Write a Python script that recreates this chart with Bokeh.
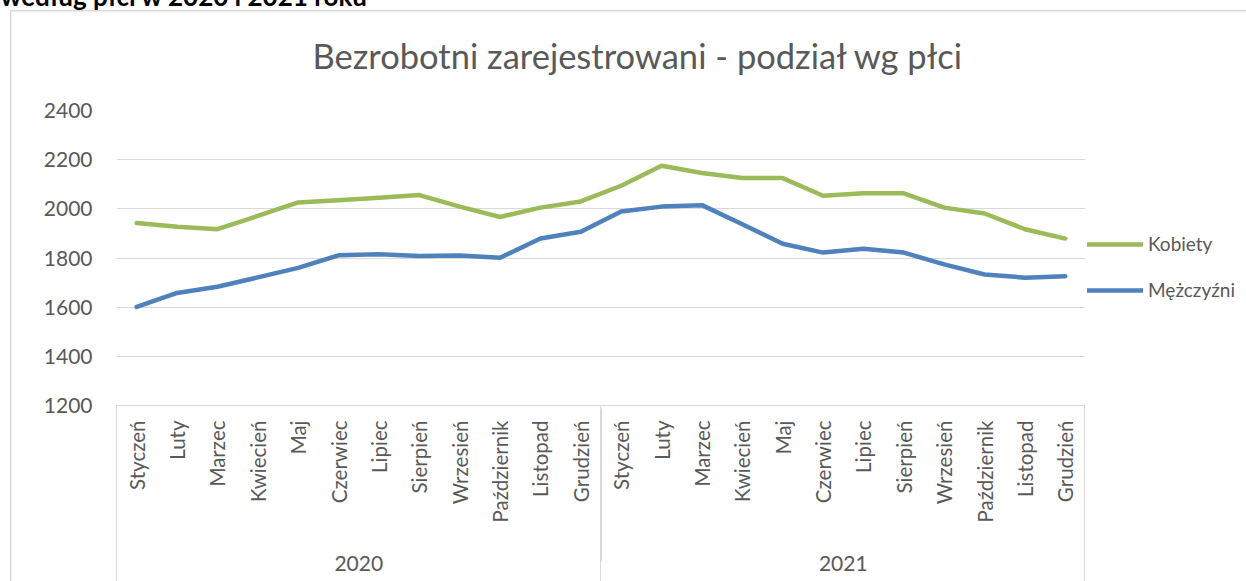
import math
from bokeh.plotting import figure
from bokeh.models import (FactorRange, Range1d, FixedTicker, Legend, LegendItem, Title)
from bokeh.embed import file_html
from bokeh.resources import INLINE

years = ["2020", "2021"]
months = ["Styczeń", "Luty", "Marzec", "Kwiecień", "Maj", "Czerwiec", "Lipiec",
          "Sierpień", "Wrzesień", "Październik", "Listopad", "Grudzień"]
kobiety = [1942, 1927, 1917, 1971, 2026, 2035, 2045, 2056, 2009, 1967, 2005, 2030,
           2094, 2175, 2146, 2125, 2125, 2053, 2063, 2063, 2005, 1981, 1917, 1879]
mezczyzni = [1601, 1658, 1683, 1721, 1760, 1811, 1815, 1808, 1810, 1801, 1879, 1907,
             1989, 2009, 2015, 1937, 1858, 1822, 1838, 1822, 1774, 1733, 1720, 1726]
y_ticks = [1200, 1400, 1600, 1800, 2000, 2200, 2400]
title_text = "Bezrobotni zarejestrowani - podział wg płci"
heading_text = "według płci w 2020 i 2021 roku"

PAD = "\u00a0" * 4  # spacing between month labels and year labels
factors = [(y, PAD + m) for y in years for m in months]

FONT = "Lato"
TXT = "#595959"
GRID = "#d9d9d9"
GREEN = "#9BBB59"
BLUE = "#4F81BD"

p = figure(frame_width=969, frame_height=295, output_backend="svg", toolbar_location=None,
           x_range=FactorRange(*factors, factor_padding=0, group_padding=0,
                               subgroup_padding=0, range_padding=0),
           y_range=Range1d(1200, 2400),
           min_border_left=124, min_border_right=161,
           min_border_top=118, min_border_bottom=176)
g = "linear-gradient(#d9d9d9,#d9d9d9)"
p.styles = {
    "margin-left": "-8px", "margin-top": "-8px",
    "background-color": "white",
    "background-image": ", ".join([g] * 5),
    "background-position": "18px 18px, 18px 18px, 124px 413px, 1092px 413px, 608px 413px",
    "background-size": "100% 1.5px, 1.5px 100%, 1px 100%, 1px 100%, 1px 100%",
    "background-repeat": "no-repeat",
}
p.outline_line_color = None
p.background_fill_color = "white"
p.border_fill_color = None

r1 = p.line(factors, kobiety, line_color=GREEN, line_width=4.5,
            line_join="round", line_cap="round")
r2 = p.line(factors, mezczyzni, line_color=BLUE, line_width=4.5,
            line_join="round", line_cap="round")

# y axis
p.yaxis.ticker = FixedTicker(ticks=y_ticks)
p.yaxis.axis_line_color = None
p.yaxis.major_tick_line_color = None
p.yaxis.major_tick_out = 0
p.yaxis.minor_tick_line_color = None
p.yaxis.major_label_standoff = 24
p.yaxis.major_label_text_font = FONT
p.yaxis.major_label_text_font_size = "21px"
p.yaxis.major_label_text_color = TXT
p.ygrid.grid_line_color = GRID
p.ygrid.grid_line_width = 1
p.xgrid.grid_line_color = None

# x axis
xa = p.xaxis[0]
xa.axis_line_color = GRID
xa.major_tick_line_color = None
xa.minor_tick_line_color = None
xa.major_label_orientation = math.pi / 2
xa.major_label_standoff = 9
xa.major_label_text_font = FONT
xa.major_label_text_font_size = "20.5px"
xa.major_label_text_color = TXT
xa.group_text_font = FONT
xa.group_text_font_size = "21px"
xa.group_text_color = TXT
xa.group_text_font_style = "normal"
xa.separator_line_color = GRID
xa.separator_line_width = 1

# titles (last added is topmost)
p.add_layout(Title(text=title_text, align="left", offset=196, vertical_align="top",
                   standoff=66, text_font=FONT, text_font_size="34.5px",
                   text_font_style="normal", text_color=TXT), "above")
p.add_layout(Title(text=heading_text, align="left", offset=-116, vertical_align="top",
                   standoff=-24.8, text_font=FONT, text_font_size="26px",
                   text_font_style="bold", text_color="black"), "above")

legend = Legend(items=[LegendItem(label="Kobiety", renderers=[r1]),
                       LegendItem(label="Mężczyźni", renderers=[r2])],
                location=(2, 104), margin=0, padding=0, spacing=23,
                glyph_width=56, glyph_height=20, label_height=20,
                label_standoff=5, border_line_color=None,
                background_fill_alpha=0,
                label_text_font=FONT, label_text_font_size="19px",
                label_text_color=TXT)
p.add_layout(legend, "right")

open("out.html", "w").write(file_html(p, INLINE))
